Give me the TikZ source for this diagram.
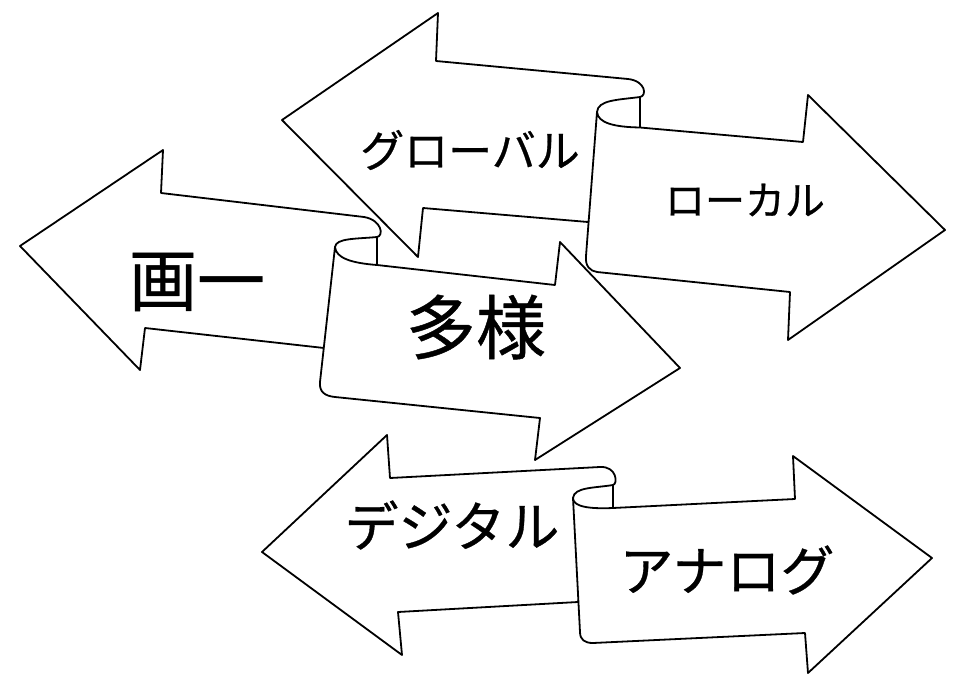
\documentclass[tikz,border=0pt]{standalone}
\usepackage{fontspec}
\newfontfamily\jpfont[FakeBold=0.6]{Noto Sans CJK JP}
\begin{document}
\begin{tikzpicture}[x=1pt,y=-1pt,
  ribbon/.style={draw=black,fill=white,line width=1.8pt,line join=round},
  rim/.style={draw=black,line width=1.8pt,line cap=round},
  lbl/.style={inner sep=0pt,font=\jpfont}]
\useasboundingbox[fill=white] (0,0) rectangle (954,675);

% ---- pair 1: global / local ----
\path[ribbon] (282,120) -- (438,13) -- (436,61) -- (628,79)
  .. controls (646,81) and (647,96) .. (640,97) -- (640,128) -- (588,222)
  -- (423,208) -- (418,257) -- cycle;
\path[ribbon] (597,112) -- (586,256) .. controls (585,266) and (590,271) .. (597,272)
  -- (790,292) -- (788,340) -- (945,230) -- (808,95) -- (803,142) -- (640,127.5)
  .. controls (614,127) and (598,123) .. (597,112) -- cycle;
\path[rim] (640,97) .. controls (617,100) and (598,100) .. (597,112);

% ---- pair 2: uniform / diverse ----
\path[ribbon] (20,246) -- (163,150) -- (161,193) -- (364,217)
  .. controls (382,220) and (384,236) .. (377,237) -- (377,264) -- (324,348)
  -- (145,328) -- (140,370) -- cycle;
\path[ribbon] (335,247) -- (320,382) .. controls (319,392) and (325,396) .. (335,397)
  -- (540,418) -- (535,460) -- (680,368) -- (560,242) -- (555,285) -- (377,265)
  .. controls (351,263) and (336,258) .. (335,247) -- cycle;
\path[rim] (377,237) .. controls (356,239) and (336,238) .. (335,247);

% ---- pair 3: digital / analog ----
\path[ribbon] (262,552) -- (387,435) -- (390,478) -- (600,467)
  .. controls (617,466) and (618,484) .. (613,485) -- (613,508) -- (578,602)
  -- (398,612) -- (402,655) -- cycle;
\path[ribbon] (573,498) -- (580,632) .. controls (580,640) and (585,643) .. (593,643)
  -- (805,633) -- (808,673) -- (932,558) -- (793,456) -- (795,499) -- (613,508)
  .. controls (590,509) and (573,507) .. (573,498) -- cycle;
\path[rim] (613,485) .. controls (595,488) and (574,487) .. (573,498);

% ---- labels ----
\node[lbl,font=\jpfont\fontsize{44}{44}\selectfont] (glob) at (470,150) {グローバル};
\node[lbl,font=\jpfont\fontsize{40}{40}\selectfont] (loc) at (745,200) {ローカル};
\node[lbl,font=\jpfont\fontsize{68}{68}\selectfont] (uni) at (197,282) {画一};
\node[lbl,font=\jpfont\fontsize{70}{70}\selectfont] (div) at (476,327) {多様};
\node[lbl,font=\jpfont\fontsize{54}{54}\selectfont] (dig) at (452,525) {デジタル};
\node[lbl,font=\jpfont\fontsize{54}{54}\selectfont] (ana) at (727,570) {アナログ};
\end{tikzpicture}
\end{document}
